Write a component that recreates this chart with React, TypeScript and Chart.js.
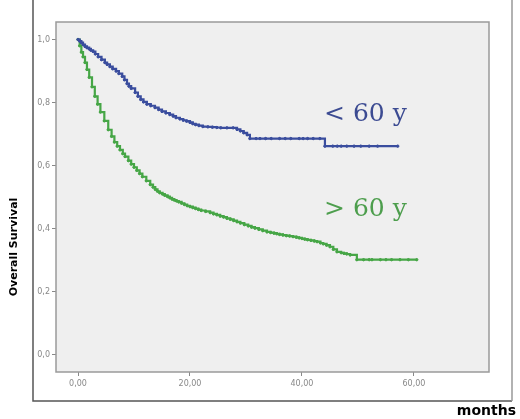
import React, { useEffect, useRef } from "react";
import { Chart, registerables } from "chart.js";

Chart.register(...registerables);

const blueMonths = [0, 0.3, 0.6, 0.9, 1.25, 1.6, 2.0, 2.3, 2.7, 3.1, 3.6, 4.2, 4.8, 5.2, 5.7, 6.2, 6.8, 7.3, 7.9, 8.3, 8.75, 9.1, 9.5, 10.2, 10.7, 11.2, 11.7, 12.3, 13.0, 13.75, 14.4, 15.0, 15.7, 16.4, 17.0, 17.5, 18.2, 18.8, 19.4, 20.0, 20.5, 21.0, 21.6, 22.3, 23.2, 24.0, 24.8, 25.5, 26.6, 27.7, 28.4, 29.0, 29.6, 30.2, 30.7, 31.8, 32.5, 33.5, 34.5, 36.0, 37.0, 38.0, 39.5, 40.2, 41.0, 42.0, 43.2, 44.1, 45.5, 46.3, 47.0, 48.0, 49.3, 50.5, 52.0, 53.5, 57.1];
const blueSurvival = [1.0, 0.995, 0.99, 0.984, 0.978, 0.974, 0.97, 0.966, 0.962, 0.954, 0.945, 0.936, 0.927, 0.921, 0.914, 0.907, 0.9, 0.892, 0.883, 0.872, 0.86, 0.852, 0.845, 0.832, 0.82, 0.81, 0.802, 0.795, 0.79, 0.784, 0.778, 0.772, 0.767, 0.762, 0.757, 0.752, 0.748, 0.744, 0.741, 0.737, 0.733, 0.73, 0.727, 0.724, 0.723, 0.722, 0.721, 0.72, 0.72, 0.72, 0.715, 0.71, 0.704, 0.698, 0.686, 0.686, 0.686, 0.686, 0.686, 0.686, 0.686, 0.686, 0.686, 0.686, 0.686, 0.686, 0.686, 0.662, 0.662, 0.662, 0.662, 0.662, 0.662, 0.662, 0.662, 0.662, 0.662];

const greenMonths = [0, 0.3, 0.6, 0.9, 1.25, 1.6, 2.0, 2.5, 3.0, 3.5, 4.0, 4.7, 5.4, 6.0, 6.5, 7.0, 7.5, 8.0, 8.4, 9.0, 9.5, 10.0, 10.5, 11.0, 11.5, 12.2, 12.9, 13.4, 13.8, 14.2, 14.6, 15.1, 15.5, 16.0, 16.4, 16.8, 17.2, 17.6, 18.0, 18.5, 19.0, 19.5, 20.0, 20.5, 21.0, 21.5, 22.0, 22.8, 23.6, 24.2, 24.8, 25.4, 26.0, 26.6, 27.2, 27.8, 28.4, 29.0, 29.7, 30.4, 31.0, 31.6, 32.3, 33.0, 33.75, 34.4, 35.0, 35.5, 36.0, 36.6, 37.2, 37.8, 38.4, 39.0, 39.5, 40.0, 40.5, 41.0, 41.6, 42.2, 42.7, 43.3, 43.8, 44.4, 45.0, 45.6, 46.25, 47.0, 47.5, 48.0, 48.6, 49.8, 51.0, 52.0, 52.5, 54.0, 55.0, 56.0, 57.5, 59.0, 60.5];
const greenSurvival = [1.0, 0.98, 0.96, 0.945, 0.927, 0.905, 0.88, 0.85, 0.82, 0.795, 0.77, 0.742, 0.714, 0.693, 0.675, 0.662, 0.65, 0.638, 0.629, 0.616, 0.605, 0.595, 0.585, 0.575, 0.565, 0.552, 0.54, 0.532, 0.525, 0.519, 0.514, 0.51, 0.506, 0.502, 0.498, 0.494, 0.491, 0.488, 0.485, 0.481, 0.477, 0.473, 0.47, 0.467, 0.464, 0.461, 0.458, 0.455, 0.451, 0.447, 0.444, 0.44, 0.437, 0.433, 0.43, 0.426, 0.422, 0.418, 0.413, 0.409, 0.405, 0.402, 0.398, 0.394, 0.39, 0.388, 0.386, 0.384, 0.382, 0.38, 0.378, 0.377, 0.375, 0.373, 0.371, 0.369, 0.367, 0.365, 0.363, 0.361, 0.359, 0.355, 0.352, 0.348, 0.343, 0.335, 0.327, 0.324, 0.322, 0.32, 0.317, 0.302, 0.302, 0.302, 0.302, 0.302, 0.302, 0.302, 0.302, 0.302, 0.302];

const xTickValues = [0, 20, 40, 60];
const xTickLabels = ["0,00", "20,00", "40,00", "60,00"];
const yTickValues = [0, 0.2, 0.4, 0.6, 0.8, 1.0];
const yTickLabels = ["0,0", "0,2", "0,4", "0,6", "0,8", "1,0"];

const seriesLabels = ["< 60 y", "> 60 y"];
const yTitle = "Overall Survival";
const xTitle = "months";

const BLUE = "#3a4d9e";
const GREEN = "#46a646";

const framePlugin = {
  id: "frame",
  beforeDraw(chart: any) {
    const { ctx, chartArea: a } = chart;
    ctx.save();
    ctx.fillStyle = "#efefef";
    ctx.fillRect(a.left, a.top, a.right - a.left, a.bottom - a.top);
    ctx.restore();
  },
  afterDraw(chart: any) {
    const { ctx, chartArea: a } = chart;
    ctx.save();
    ctx.strokeStyle = "#9a9a9a";
    ctx.lineWidth = 1.5;
    ctx.strokeRect(a.left, a.top, a.right - a.left, a.bottom - a.top);
    ctx.strokeStyle = "#555";
    ctx.lineWidth = 1.5;
    ctx.beginPath();
    ctx.moveTo(33, 0);
    ctx.lineTo(33, 401);
    ctx.lineTo(512, 401);
    ctx.stroke();
    ctx.strokeStyle = "#999";
    ctx.beginPath();
    ctx.moveTo(512, 0);
    ctx.lineTo(512, 401);
    ctx.stroke();
    ctx.font = "25px 'DejaVu Serif'";
    ctx.textAlign = "left";
    ctx.textBaseline = "alphabetic";
    ctx.fillStyle = "#3c4b92";
    ctx.fillText(seriesLabels[0], 324, 121);
    ctx.fillStyle = "#4d9e4d";
    ctx.fillText(seriesLabels[1], 324, 216);
    ctx.fillStyle = "#000";
    ctx.font = "bold 14px 'DejaVu Sans'";
    ctx.textAlign = "right";
    ctx.fillText(xTitle, 516, 415);
    ctx.translate(14, 247);
    ctx.rotate(-Math.PI / 2);
    ctx.textAlign = "center";
    ctx.textBaseline = "middle";
    ctx.font = "bold 11px 'DejaVu Sans'";
    ctx.fillText(yTitle, 0, 0);
    ctx.restore();
  },
};

export default function App() {
  const ref = useRef<HTMLCanvasElement>(null);
  useEffect(() => {
    if (!ref.current) return;
    const chart = new Chart(ref.current, {
      type: "line",
      data: {
        datasets: [
          {
            label: seriesLabels[0],
            data: blueMonths.map((m, i) => ({ x: m, y: blueSurvival[i] })),
            borderColor: BLUE,
            backgroundColor: BLUE,
            borderWidth: 2.2,
            stepped: true,
            pointRadius: 1.2,
            pointBorderWidth: 1,
            pointStyle: "circle",
          },
          {
            label: seriesLabels[1],
            data: greenMonths.map((m, i) => ({ x: m, y: greenSurvival[i] })),
            borderColor: GREEN,
            backgroundColor: GREEN,
            borderWidth: 2.2,
            stepped: true,
            pointRadius: 1.2,
            pointBorderWidth: 1,
            pointStyle: "circle",
          },
        ],
      },
      options: {
        animation: false,
        responsive: false,
        devicePixelRatio: 1,
        layout: { padding: { left: 0, top: 22, right: 31, bottom: 0 } },
        plugins: { legend: { display: false }, tooltip: { enabled: false } },
        scales: {
          x: {
            type: "linear",
            min: -3.93,
            max: 73.4,
            afterBuildTicks: (s: any) => {
              s.ticks = xTickValues.map((v) => ({ value: v }));
            },
            afterFit: (s: any) => {
              s.height = 47;
            },
            ticks: {
              callback: (_v: any, i: number) => xTickLabels[i],
              font: { size: 8, family: "'DejaVu Sans'" },
              color: "#888",
              padding: 3,
              maxRotation: 0,
              autoSkip: false,
            },
            grid: { drawOnChartArea: false, drawTicks: true, tickLength: 4, tickColor: "#888" },
            border: { display: false },
          },
          y: {
            type: "linear",
            min: -0.054,
            max: 1.0555,
            afterBuildTicks: (s: any) => {
              s.ticks = yTickValues.map((v) => ({ value: v }));
            },
            afterFit: (s: any) => {
              s.width = 56;
            },
            ticks: {
              callback: (_v: any, i: number) => yTickLabels[i],
              font: { size: 8, family: "'DejaVu Sans'" },
              color: "#888",
              padding: 2,
              autoSkip: false,
            },
            grid: { drawOnChartArea: false, drawTicks: true, tickLength: 4, tickColor: "#888" },
            border: { display: false },
          },
        },
      },
      plugins: [framePlugin],
    });
    return () => chart.destroy();
  }, []);
  return (
    <div style={{ position: "fixed", left: 0, top: 0, width: 520, height: 419, background: "#fff" }}>
      <canvas ref={ref} width={520} height={419} style={{ display: "block" }} />
    </div>
  );
}
